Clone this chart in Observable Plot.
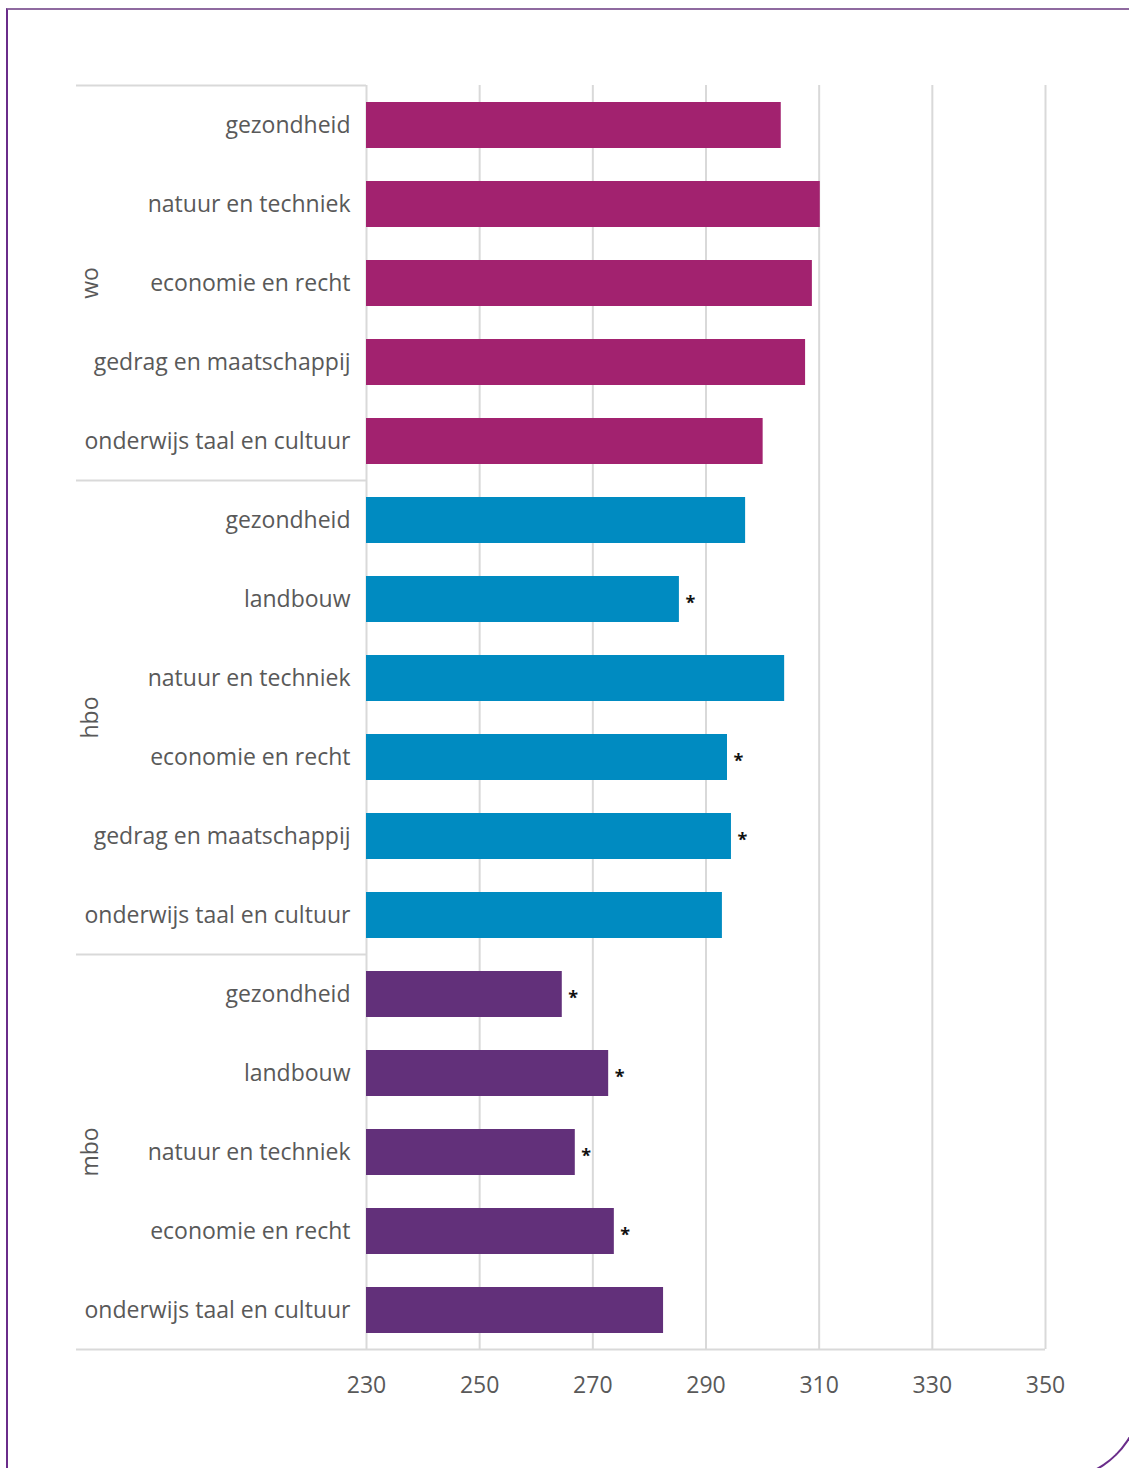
<!DOCTYPE html>
<html><head><meta charset="utf-8">
<script src="https://cdn.jsdelivr.net/npm/d3@7"></script>
<script src="https://cdn.jsdelivr.net/npm/@observablehq/plot@0.6"></script>
<style>
html,body{margin:0;padding:0;background:#fff;overflow:hidden}
#wrap{position:relative;width:1129px;height:1468px;overflow:hidden;background:#fff}
#frame{position:absolute;left:6px;top:8px;width:1136px;height:1472px;border-top:2px solid #8f6aa0;border-left:2px solid #6a2c8a;border-right:2px solid #6a2c8a;border-bottom:2px solid #6a2c8a;border-bottom-right-radius:85px;box-sizing:border-box}
#chart{position:absolute;left:0;top:0}
</style></head>
<body>
<div id="wrap"><div id="frame"></div><div id="chart"></div></div>
<script>
const groups = ["wo","wo","wo","wo","wo","hbo","hbo","hbo","hbo","hbo","hbo","mbo","mbo","mbo","mbo","mbo"];
const categories = ["gezondheid","natuur en techniek","economie en recht","gedrag en maatschappij","onderwijs taal en cultuur",
  "gezondheid","landbouw","natuur en techniek","economie en recht","gedrag en maatschappij","onderwijs taal en cultuur",
  "gezondheid","landbouw","natuur en techniek","economie en recht","onderwijs taal en cultuur"];
const scores = [303.3,310.2,308.8,307.6,300.1, 297.0,285.3,303.9,293.8,294.5,292.9, 264.6,272.8,266.9,273.8,282.5];
const significant = [false,false,false,false,false, false,true,false,true,true,false, true,true,true,true,false];
const xTicks = [230,250,270,290,310,330,350];
const groupColors = ["#a2226f","#008bc1","#62307a"];
const groupNames = ["wo","hbo","mbo"];

const keys = groups.map((g,i)=>g+"|"+categories[i]);
const data = keys.map((k,i)=>({key:k, group:groups[i], category:categories[i], score:scores[i], sig:significant[i]}));
const xMin = xTicks[0], xMax = xTicks[xTicks.length-1];
const FONT = "'Open Sans', 'Noto Sans', sans-serif";
const FS = 23;

const plot = Plot.plot({
  width:1129, height:1468,
  marginTop:85, marginBottom:119, marginLeft:366, marginRight:84,
  style:{fontFamily:FONT, fontSize:FS+"px", color:"#595959", background:"transparent", overflow:"visible"},
  x:{domain:[xMin,xMax], ticks:xTicks, tickSize:0, tickPadding:27, label:null, tickFormat:d=>String(d)},
  y:{domain:keys, paddingInner:0.418, paddingOuter:0.209, tickSize:0, tickPadding:16, label:null, tickFormat:k=>k.split("|")[1]},
  color:{domain:groupNames, range:groupColors},
  marks:[
    Plot.ruleX(xTicks, {stroke:"#d9d9d9", strokeWidth:2}),
    Plot.barX(data, {x1:xMin, x2:"score", y:"key", fill:"group"}),
    Plot.text(data.filter(d=>d.sig), {x:"score", y:"key", text:()=>"*", dx:6, dy:4, textAnchor:"start", fontSize:18, fontWeight:"bold", fill:"#111"})
  ]
});
document.getElementById("chart").appendChild(plot);

const svg = d3.select(plot);
svg.selectAll("text").attr("font-family", FONT);
const ys = plot.scale("y");
const step = ys.apply(keys[1]) - ys.apply(keys[0]);
const bw = ys.bandwidth;
const half = (step - bw)/2;
const leftEdge = 76;
const g = svg.append("g");
groupNames.forEach(gn => {
  const gk = keys.filter(k=>k.startsWith(gn+"|"));
  const top = ys.apply(gk[0]) - half;
  const bottom = ys.apply(gk[gk.length-1]) + bw + half;
  g.append("line").attr("x1", leftEdge).attr("x2", 366).attr("y1", top).attr("y2", top)
    .attr("stroke", "#d9d9d9").attr("stroke-width", 2);
  g.append("text").attr("transform", `translate(92,${(top+bottom)/2}) rotate(-90)`)
    .attr("text-anchor","middle").attr("dominant-baseline","middle")
    .attr("font-family", FONT).attr("font-size", FS).attr("fill", "#595959").text(gn);
});
const lastBottom = ys.apply(keys[keys.length-1]) + bw + half;
g.append("line").attr("x1", leftEdge).attr("x2", 1045).attr("y1", lastBottom).attr("y2", lastBottom)
  .attr("stroke", "#d9d9d9").attr("stroke-width", 2);
</script>
</body></html>
